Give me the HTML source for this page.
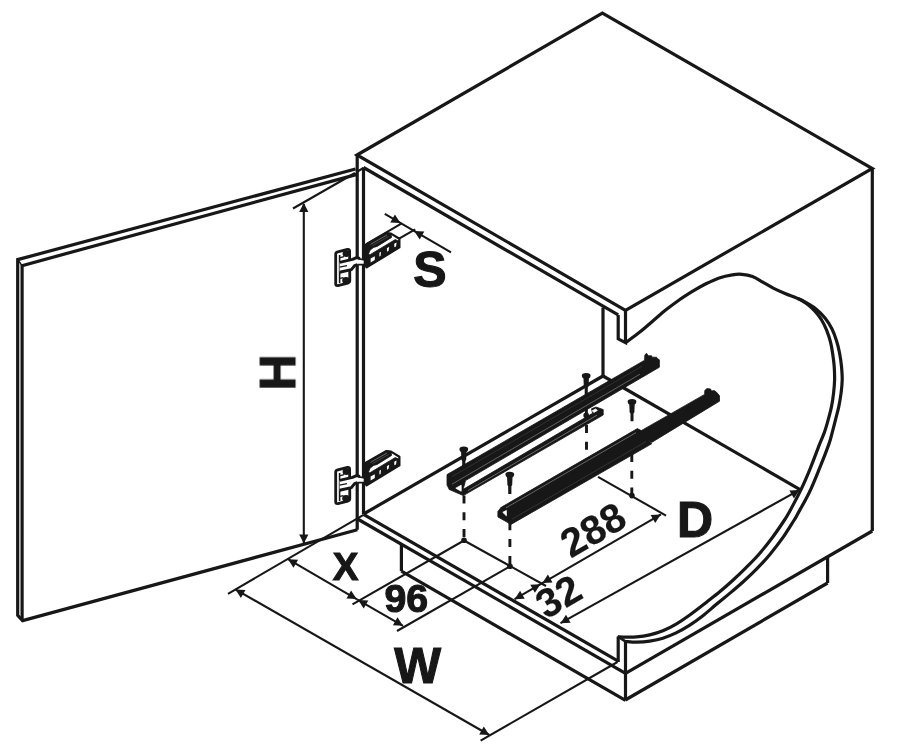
<!DOCTYPE html>
<html><head><meta charset="utf-8"><title>Cabinet installation dimensions</title>
<style>
html,body{margin:0;padding:0;background:#fff;}
body{width:908px;height:756px;overflow:hidden;font-family:"Liberation Sans",sans-serif;}
svg{display:block;}
svg text{font-family:"Liberation Sans",sans-serif;font-weight:bold;fill:#171718;stroke:#171718;stroke-linejoin:miter;}
</style></head>
<body>
<svg width="908" height="756" viewBox="0 0 908 756" stroke="#171718" fill="none" stroke-linecap="butt" stroke-linejoin="miter">
<rect x="0" y="0" width="908" height="756" fill="#fff" stroke="none"/>
<path d="M357.0,155.0 L602.4,13.1 L872.3,168.5 L625.5,310.3 Z" stroke-width="3.2" fill="none" />
<line x1="363.5" y1="167.5" x2="618.2" y2="314.9" stroke-width="3.2" />
<path d="M618.2,314.9 L618.2,338.8 L625.5,342.6 L625.5,310.3" stroke-width="3.2" fill="none" />
<line x1="357.2" y1="155.0" x2="357.2" y2="529.7" stroke-width="3.2" />
<line x1="363.5" y1="167.5" x2="363.5" y2="514.0" stroke-width="3.2" />
<line x1="363.5" y1="514.4" x2="618.2" y2="661.2" stroke-width="3.2" />
<line x1="357.6" y1="519.0" x2="625.5" y2="673.3" stroke-width="3.2" />
<line x1="618.2" y1="636.6" x2="618.2" y2="662.0" stroke-width="3.2" />
<line x1="625.5" y1="641.3" x2="625.5" y2="700.4" stroke-width="3.2" />
<line x1="625.5" y1="673.3" x2="872.3" y2="531.0" stroke-width="3.2" />
<line x1="872.3" y1="168.5" x2="872.3" y2="531.0" stroke-width="3.2" />
<line x1="827.6" y1="557.0" x2="827.6" y2="583.0" stroke-width="3.2" />
<line x1="827.6" y1="583.0" x2="625.3" y2="700.0" stroke-width="3.2" />
<line x1="401.4" y1="544.5" x2="401.4" y2="571.2" stroke-width="3.2" />
<line x1="401.4" y1="571.2" x2="625.5" y2="700.4" stroke-width="3.2" />
<line x1="363.5" y1="514.0" x2="603.0" y2="376.0" stroke-width="3.2" />
<line x1="603.0" y1="307.6" x2="603.0" y2="376.0" stroke-width="3.2" />
<line x1="603.0" y1="376.0" x2="800.5" y2="489.8" stroke-width="3.2" />
<path d="M625.4,342.8 C627.8,341.0 635.2,335.8 639.8,332.1 C644.4,328.4 648.7,324.6 653.1,320.8 C657.5,317.1 661.9,313.1 666.3,309.6 C670.7,306.1 675.1,302.8 679.5,299.7 C683.9,296.6 688.4,293.8 692.8,291.1 C697.2,288.5 701.6,286.0 706.0,283.8 C710.4,281.6 714.8,279.4 719.2,277.9 C723.6,276.4 728.6,275.4 732.4,274.8 C736.2,274.2 738.5,274.0 741.9,274.3 C745.2,274.6 749.0,275.3 752.5,276.6 C756.0,277.9 759.6,280.4 763.1,282.3 C766.6,284.2 770.0,286.4 773.7,288.3 C777.5,290.2 781.6,292.0 785.6,293.7 C789.6,295.4 794.0,296.7 797.5,298.4 C801.0,300.1 803.8,301.6 806.7,303.7 C809.6,305.8 812.3,308.3 814.7,310.9 C817.1,313.5 819.3,316.3 821.3,319.5 C823.3,322.7 825.1,326.4 826.6,330.1 C828.1,333.9 829.5,338.1 830.5,342.0 C831.5,345.9 832.0,349.1 832.6,353.2 C833.2,357.3 833.9,362.1 834.2,366.5 C834.5,370.9 834.7,375.3 834.6,379.7 C834.5,384.1 834.1,388.5 833.6,392.9 C833.1,397.3 832.5,401.7 831.6,406.1 C830.7,410.5 829.5,415.0 828.3,419.4 C827.1,423.8 825.8,428.5 824.3,432.6 C822.8,436.7 821.9,438.2 819.6,444.1 C817.3,450.0 813.5,460.6 810.4,468.1 C807.3,475.7 804.5,482.3 801.1,489.4 C797.7,496.5 792.8,505.6 790.0,510.7 C787.2,515.8 787.4,515.6 784.5,520.0 C781.6,524.4 776.8,531.6 772.6,537.2 C768.4,542.8 763.8,548.6 759.4,553.7 C755.0,558.8 750.5,563.2 746.1,567.6 C741.7,572.0 737.3,576.2 732.9,580.2 C728.5,584.2 724.1,588.1 719.7,591.8 C715.3,595.5 711.5,598.3 706.5,602.2 C701.5,606.1 694.5,611.6 689.4,615.2 C684.3,618.9 680.5,621.5 676.1,624.1 C671.7,626.7 667.3,629.0 662.9,630.8 C658.5,632.6 654.1,633.9 649.7,634.9 C645.3,635.9 640.9,636.5 636.5,636.9 C632.1,637.3 626.3,637.1 623.2,637.1 C620.1,637.1 618.8,636.9 617.9,636.9" stroke-width="3.2" fill="none" />
<path d="M797.5,298.4 C798.6,298.9 800.9,299.6 804.0,301.4 C807.1,303.1 812.5,306.1 816.0,308.9 C819.5,311.7 822.6,314.9 825.2,318.2 C827.9,321.5 830.0,325.1 831.9,328.8 C833.8,332.6 835.2,336.6 836.5,340.7 C837.8,344.8 838.8,348.9 839.6,353.2 C840.4,357.5 841.1,362.1 841.5,366.5 C841.9,370.9 842.3,375.3 842.2,379.7 C842.1,384.1 841.7,388.5 841.1,392.9 C840.5,397.3 839.8,401.7 838.9,406.1 C838.0,410.5 836.7,415.0 835.6,419.4 C834.5,423.8 833.3,428.5 832.2,432.6 C831.1,436.7 831.0,438.2 828.9,444.1 C826.8,450.0 822.9,460.1 819.6,468.1 C816.4,476.1 813.1,484.5 809.4,492.2 C805.7,499.9 799.9,509.8 797.4,514.4 C794.9,519.0 796.6,516.2 794.2,520.0 C791.8,523.8 787.2,531.5 783.2,537.2 C779.2,542.9 774.3,549.1 769.9,554.4 C765.5,559.7 761.1,564.4 756.7,568.9 C752.3,573.4 747.9,577.5 743.5,581.5 C739.1,585.5 734.7,589.2 730.3,592.9 C725.9,596.6 721.6,599.9 717.0,603.8 C712.4,607.6 707.2,612.4 702.6,616.0 C698.0,619.6 693.8,622.6 689.4,625.4 C685.0,628.2 680.5,630.8 676.1,632.9 C671.7,635.0 667.3,636.8 662.9,638.2 C658.5,639.6 654.1,640.4 649.7,641.1 C645.3,641.8 640.5,642.1 636.5,642.2 C632.5,642.3 627.4,641.6 625.6,641.5" stroke-width="3.2" fill="none" />
<line x1="617.6" y1="636.4" x2="625.8" y2="641.6" stroke-width="2.6" />
<path d="M355.5,169.0 L17.7,259.6 L17.7,615.4 L22.6,620.6 L357.4,529.7" stroke-width="3.2" fill="none" />
<path d="M357.0,174.4 L22.1,265.6 L22.1,620.0" stroke-width="3.2" fill="none" />
<line x1="17.7" y1="259.6" x2="22.1" y2="265.6" stroke-width="1.6" />
<line x1="357.2" y1="171.6" x2="363.5" y2="168.0" stroke-width="2.2" />
<line x1="303.8" y1="204.0" x2="303.8" y2="543.0" stroke-width="2.1" />
<path d="M303.8,203.0 L308.4,212.0 L299.2,212.0 Z" fill="#171718" stroke="none"/>
<path d="M303.8,543.6 L299.2,534.6 L308.4,534.6 Z" fill="#171718" stroke="none"/>
<line x1="293.0" y1="208.5" x2="355.0" y2="173.0" stroke-width="2.1" />
<line x1="384.8" y1="213.9" x2="451.0" y2="252.4" stroke-width="2.1" />
<path d="M400.4,223.0 L390.3,222.5 L394.9,214.5 Z" fill="#171718" stroke="none"/>
<path d="M414.2,231.0 L424.3,231.5 L419.7,239.5 Z" fill="#171718" stroke="none"/>
<line x1="366.3" y1="244.2" x2="401.7" y2="223.4" stroke-width="2.1" />
<line x1="398.6" y1="238.8" x2="415.2" y2="229.4" stroke-width="2.1" />
<line x1="363.5" y1="514.8" x2="228.0" y2="593.8" stroke-width="2.1" />
<line x1="235.4" y1="589.4" x2="489.3" y2="735.0" stroke-width="2.1" />
<path d="M235.4,589.4 L245.5,589.9 L240.9,597.9 Z" fill="#171718" stroke="none"/>
<path d="M489.3,735.0 L479.2,734.5 L483.8,726.5 Z" fill="#171718" stroke="none"/>
<line x1="617.5" y1="662.0" x2="480.6" y2="740.6" stroke-width="2.1" />
<line x1="288.0" y1="559.2" x2="357.0" y2="599.3" stroke-width="2.1" />
<path d="M288.0,559.2 L298.1,559.7 L293.5,567.7 Z" fill="#171718" stroke="none"/>
<path d="M356.6,599.1 L346.5,598.6 L351.1,590.6 Z" fill="#171718" stroke="none"/>
<line x1="357.0" y1="599.3" x2="403.0" y2="625.8" stroke-width="2.1" />
<path d="M358.2,600.0 L368.3,600.5 L363.7,608.5 Z" fill="#171718" stroke="none"/>
<path d="M403.0,625.8 L392.9,625.3 L397.5,617.3 Z" fill="#171718" stroke="none"/>
<line x1="464.0" y1="540.5" x2="352.5" y2="604.3" stroke-width="2.1" />
<line x1="510.0" y1="566.3" x2="397.0" y2="631.0" stroke-width="2.1" />
<line x1="464.0" y1="540.5" x2="546.0" y2="586.0" stroke-width="2.1" />
<line x1="514.6" y1="599.2" x2="541.5" y2="583.6" stroke-width="2.1" />
<path d="M514.6,599.2 L520.1,590.7 L524.7,598.7 Z" fill="#171718" stroke="none"/>
<path d="M540.4,584.2 L534.9,592.7 L530.3,584.7 Z" fill="#171718" stroke="none"/>
<line x1="541.5" y1="583.6" x2="661.0" y2="514.3" stroke-width="2.1" />
<path d="M542.4,583.0 L547.9,574.5 L552.5,582.5 Z" fill="#171718" stroke="none"/>
<path d="M660.7,514.5 L655.2,523.0 L650.6,515.0 Z" fill="#171718" stroke="none"/>
<line x1="598.0" y1="476.8" x2="666.0" y2="515.6" stroke-width="2.1" />
<line x1="560.5" y1="623.2" x2="799.5" y2="489.9" stroke-width="2.1" />
<path d="M560.5,623.2 L566.0,614.7 L570.6,622.7 Z" fill="#171718" stroke="none"/>
<path d="M799.5,489.9 L794.0,498.4 L789.4,490.4 Z" fill="#171718" stroke="none"/>
<line x1="464" y1="495.4" x2="464" y2="540.5" stroke-width="2.9" stroke-dasharray="8 8.8"/>
<circle cx="464" cy="540.3" r="2.8" fill="#171718" stroke="none"/>
<line x1="586.5" y1="424.9" x2="586.5" y2="450" stroke-width="2.9" stroke-dasharray="8 8.8"/>
<line x1="586.4" y1="403.0" x2="586.4" y2="416.0" stroke-width="2.9" />
<circle cx="586.2" cy="415.4" r="2.8" fill="#171718" stroke="none"/>
<line x1="509.9" y1="522.3" x2="509.9" y2="566" stroke-width="2.9" stroke-dasharray="8 8.8"/>
<circle cx="510" cy="566.3" r="2.8" fill="#171718" stroke="none"/>
<line x1="631.8" y1="454" x2="631.8" y2="496" stroke-width="2.9" stroke-dasharray="8 8.8"/>
<circle cx="631.9" cy="495.6" r="2.8" fill="#171718" stroke="none"/>
<path d="M447.0,474.6 L644.6,360.2 L644.8,355.2 L646.4,353.2 L648.4,355.8 L651.6,355.8 L652.0,357.2 L656.6,357.2 L657.4,358.6 L659.4,359.8 L659.4,367.2 L465.5,480.6 L463.0,490.1 L449.3,489.4 L447.0,485.1 Z" fill="#171718" stroke="#171718" stroke-width="0.8" stroke-linejoin="round"/>
<path d="M463.3,489.3 L592.6,413.3 L591.5,408.8 L596.0,407.0 L603.2,409.6 L603.2,415.0 L463.3,495.6 L449.3,489.5 L449.3,486.0 Z" fill="#171718" stroke="#171718" stroke-width="0.8" stroke-linejoin="round"/>
<path d="M592.2,410.8 L595.6,409.0 L597.4,410.4 L594.0,412.4 Z" fill="#fff" stroke="#fff" stroke-width="0.8" stroke-linejoin="round"/>
<path d="M455.8,488.2 L461.2,485.2 L461.2,491.2 Z" fill="#fff" stroke="#fff" stroke-width="0.8" stroke-linejoin="round"/>
<path d="M497.9,511.4 L501.2,507.3 L637.4,428.6 L641.0,430.5 L651.7,443.8 L511.0,524.4 L497.9,516.9 Z" fill="#171718" stroke="#171718" stroke-width="0.8" stroke-linejoin="round"/>
<path d="M638.5,432.2 L704.6,394.4 L704.8,390.4 L707.0,388.6 L710.6,389.0 L711.4,391.0 L714.4,390.6 L716.6,392.2 L719.5,395.8 L719.5,401.2 L651.7,442.4 Z" fill="#171718" stroke="#171718" stroke-width="0.8" stroke-linejoin="round"/>
<path d="M502.8,512.3 L506.4,510.5 L506.4,515.8 Z" fill="#fff" stroke="#fff" stroke-width="0.8" stroke-linejoin="round"/>
<line x1="452" y1="484.2" x2="640" y2="374.2" stroke="#fff" stroke-opacity="0.32" stroke-width="1.0"/>
<line x1="452" y1="476.6" x2="642" y2="366.2" stroke="#fff" stroke-opacity="0.14" stroke-width="0.8"/>
<line x1="468" y1="490.6" x2="597" y2="415.2" stroke="#fff" stroke-opacity="0.36" stroke-width="1.0"/>
<line x1="506" y1="507.8" x2="636" y2="432.6" stroke="#fff" stroke-opacity="0.34" stroke-width="1.0"/>
<line x1="512" y1="519.2" x2="646" y2="441.6" stroke="#fff" stroke-opacity="0.16" stroke-width="0.8"/>
<path d="M459.4,449.3 Q459.4,446.5 463.8,446.5 Q468.2,446.5 468.2,449.3 Q468.0,451.4 466.5,452.2 L466.2,459.8 L465.4,461.0 L465.4,468.8 L462.2,468.8 L462.2,461.0 L461.4,459.8 L461.1,452.2 Q459.6,451.4 459.4,449.3 Z" fill="#171718" stroke="none"/>
<path d="M581.8,375.7 Q581.8,372.9 586.2,372.9 Q590.6,372.9 590.6,375.7 Q590.4,377.8 588.9,378.6 L588.6,386.2 L587.8,387.4 L587.8,395.2 L584.7,395.2 L584.7,387.4 L583.8,386.2 L583.5,378.6 Q582.0,377.8 581.8,375.7 Z" fill="#171718" stroke="none"/>
<path d="M505.4,474.5 Q505.4,471.7 509.8,471.7 Q514.2,471.7 514.2,474.5 Q514.0,476.6 512.5,477.4 L512.2,485.0 L511.4,486.2 L511.4,494.0 L508.2,494.0 L508.2,486.2 L507.4,485.0 L507.1,477.4 Q505.6,476.6 505.4,474.5 Z" fill="#171718" stroke="none"/>
<path d="M627.6,401.7 Q627.6,398.9 632.0,398.9 Q636.4,398.9 636.4,401.7 Q636.2,403.8 634.7,404.6 L634.4,412.2 L633.5,413.4 L633.5,421.2 L630.5,421.2 L630.5,413.4 L629.6,412.2 L629.3,404.6 Q627.8,403.8 627.6,401.7 Z" fill="#171718" stroke="none"/>
<g transform="translate(0,0)" stroke-linejoin="round">
<path d="M337.8,251.8 L347.5,249.4 Q349.6,248.9 349.6,250.9 L349.8,280.6 Q349.8,282.6 347.8,283.1 L337.8,285.6 Q335.7,286.1 335.7,284.1 L335.7,254 Q335.7,252.3 337.8,251.8 Z" fill="#fff" stroke-width="2.8"/>
<path d="M339.6,255 L339.6,283" stroke-width="1.6" fill="none"/>
<ellipse cx="346.2" cy="253.8" rx="3.6" ry="3.2" fill="#171718" stroke="none"/>
<ellipse cx="346.0" cy="280.4" rx="3.8" ry="3.3" fill="#171718" stroke="none"/>
<path d="M340,257.6 L344,256.6 M340,278.4 L343.4,277.6" stroke-width="1.4" fill="none"/>
<path d="M339.6,262.4 L352.5,259.4 L356.6,257.6 L360,258.4 L366.5,260 L366.5,264.4 L357.4,264.2 L354.6,265.6 L351.4,269.6 L339.6,272.2 Z" fill="#fff" stroke="none"/>
<path d="M339.6,262.4 L352.5,259.4 L356.6,257.6 L360,258.4" stroke-width="3" fill="none"/>
<path d="M339.6,272.2 L351.4,269.6 L354.6,265.6 L357.4,264.6" stroke-width="3" fill="none"/>
<path d="M358,258.6 L366,260.2 M357.4,264.6 L366,264.6" stroke-width="1.6" fill="none"/>
<path d="M339.6,267.2 L347,265.6" stroke-width="1.3" fill="none"/>
<path d="M365,245.2 L386.4,233 L391,233.6 L399.4,238.8 L399.4,247.4 L366.6,267.4 L364.8,264.4 Z" fill="#fff" stroke-width="2.2"/>
<path d="M365,245.2 L386.4,233 L391,233.6 L391.6,237.4 L377.2,246.4 L373.6,247.4 L370,250.2 L368.6,253.8 L370.6,256.4 L367.2,262.4 L364.8,262.4 Z" fill="#171718" stroke="#171718" stroke-width="0.8"/>
<path d="M370.5,244.4 L387,235" stroke="#fff" stroke-opacity="0.5" stroke-width="0.7" fill="none"/>
<path d="M372.5,245.6 L388.6,236.4" stroke="#fff" stroke-opacity="0.3" stroke-width="0.6" fill="none"/>
<path d="M369.2,255.2 L395.2,239.6 L399.4,241.2 L399.4,247.4 L366.6,267.4 L365.2,263 Z" fill="#171718" stroke="#171718" stroke-width="0.8"/>
<path d="M370.6,258.6 L374.8,256.2 L374.8,260 L370.6,262.6 Z" fill="#fff" stroke="none"/>
<path d="M379.4,252.8 L381,251.8 L380.6,256 L379.4,256.6 Z M386.9,248.2 L389.2,246.8 L388.6,250.8 L387,251.8 Z M394.2,243.8 L396.6,242.4 L396,246.4 L394.4,247.2 Z" fill="#fff" stroke="none"/>
</g>
<g transform="translate(0,218)" stroke-linejoin="round">
<path d="M337.8,251.8 L347.5,249.4 Q349.6,248.9 349.6,250.9 L349.8,280.6 Q349.8,282.6 347.8,283.1 L337.8,285.6 Q335.7,286.1 335.7,284.1 L335.7,254 Q335.7,252.3 337.8,251.8 Z" fill="#fff" stroke-width="2.8"/>
<path d="M339.6,255 L339.6,283" stroke-width="1.6" fill="none"/>
<ellipse cx="346.2" cy="253.8" rx="3.6" ry="3.2" fill="#171718" stroke="none"/>
<ellipse cx="346.0" cy="280.4" rx="3.8" ry="3.3" fill="#171718" stroke="none"/>
<path d="M340,257.6 L344,256.6 M340,278.4 L343.4,277.6" stroke-width="1.4" fill="none"/>
<path d="M339.6,262.4 L352.5,259.4 L356.6,257.6 L360,258.4 L366.5,260 L366.5,264.4 L357.4,264.2 L354.6,265.6 L351.4,269.6 L339.6,272.2 Z" fill="#fff" stroke="none"/>
<path d="M339.6,262.4 L352.5,259.4 L356.6,257.6 L360,258.4" stroke-width="3" fill="none"/>
<path d="M339.6,272.2 L351.4,269.6 L354.6,265.6 L357.4,264.6" stroke-width="3" fill="none"/>
<path d="M358,258.6 L366,260.2 M357.4,264.6 L366,264.6" stroke-width="1.6" fill="none"/>
<path d="M339.6,267.2 L347,265.6" stroke-width="1.3" fill="none"/>
<path d="M365,245.2 L386.4,233 L391,233.6 L399.4,238.8 L399.4,247.4 L366.6,267.4 L364.8,264.4 Z" fill="#fff" stroke-width="2.2"/>
<path d="M365,245.2 L386.4,233 L391,233.6 L391.6,237.4 L377.2,246.4 L373.6,247.4 L370,250.2 L368.6,253.8 L370.6,256.4 L367.2,262.4 L364.8,262.4 Z" fill="#171718" stroke="#171718" stroke-width="0.8"/>
<path d="M370.5,244.4 L387,235" stroke="#fff" stroke-opacity="0.5" stroke-width="0.7" fill="none"/>
<path d="M372.5,245.6 L388.6,236.4" stroke="#fff" stroke-opacity="0.3" stroke-width="0.6" fill="none"/>
<path d="M369.2,255.2 L395.2,239.6 L399.4,241.2 L399.4,247.4 L366.6,267.4 L365.2,263 Z" fill="#171718" stroke="#171718" stroke-width="0.8"/>
<path d="M370.6,258.6 L374.8,256.2 L374.8,260 L370.6,262.6 Z" fill="#fff" stroke="none"/>
<path d="M379.4,252.8 L381,251.8 L380.6,256 L379.4,256.6 Z M386.9,248.2 L389.2,246.8 L388.6,250.8 L387,251.8 Z M394.2,243.8 L396.6,242.4 L396,246.4 L394.4,247.2 Z" fill="#fff" stroke="none"/>
</g>
<g id="txt" opacity="0.999" stroke-width="1.1">
<text x="413.2" y="286.8" font-size="50" text-anchor="start">S</text>
<text x="295.4" y="372.3" font-size="50" text-anchor="middle" transform="rotate(-90 295.4 372.3)">H</text>
<text x="332.8" y="580" font-size="38.5" text-anchor="start">X</text>
<text x="384.4" y="611.6" font-size="39.3" text-anchor="start">96</text>
<text x="394.3" y="683" font-size="49.6" text-anchor="start">W</text>
<text x="677" y="536.7" font-size="50" text-anchor="start">D</text>
<text x="600.0" y="541.8" font-size="40.4" text-anchor="middle" transform="rotate(-30 600.0 541.8)" stroke-width="0.15">288</text>
<text x="565.4" y="608.4" font-size="40.4" text-anchor="middle" transform="rotate(-30 565.4 608.4)" stroke-width="0.15">32</text>
</g>
</svg>
</body></html>
